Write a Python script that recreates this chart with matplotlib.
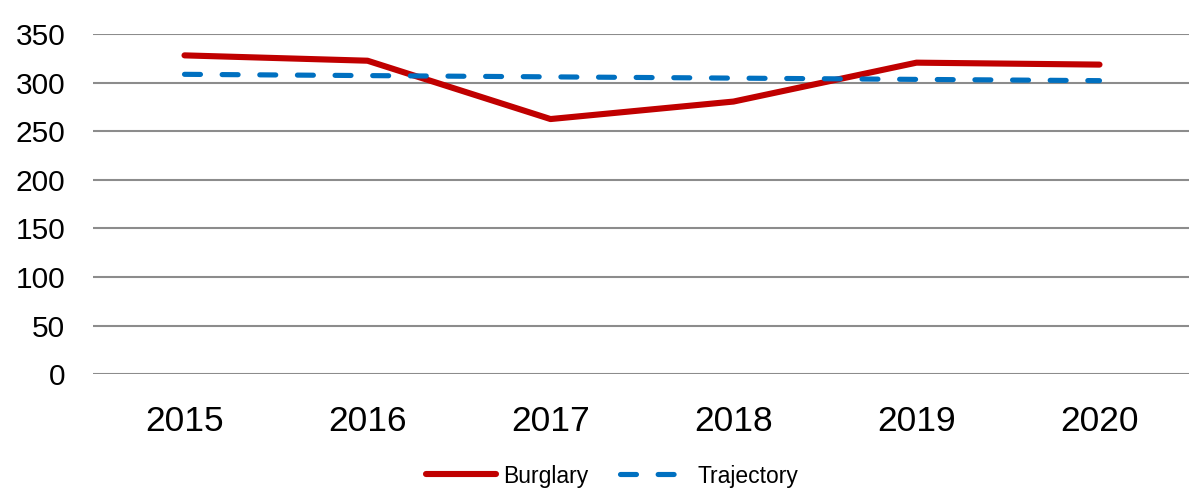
import matplotlib.pyplot as plt

plt.rcParams['font.family'] = ['Liberation Sans', 'DejaVu Sans']
plt.rcParams['lines.scale_dashes'] = False

# Chart data
years = ['2015', '2016', '2017', '2018', '2019', '2020']
burglary = [328, 322.5, 262.5, 280.5, 320.5, 318.5]
trajectory = [308.5, 307.2, 305.9, 304.6, 303.3, 302]
y_ticks = [0, 50, 100, 150, 200, 250, 300, 350]

fig = plt.figure(figsize=(11.89, 4.91), dpi=100)
ax = fig.add_axes([93 / 1189, 0.2377, 1098 / 1189, 0.6931])

x = range(len(years))
ax.plot(x, burglary, color='#C00000', lw=4.4, solid_capstyle='round',
        solid_joinstyle='round', label='Burglary', zorder=3)
ax.plot(x, trajectory, color='#0070C0', lw=3.7, dash_capstyle='round',
        linestyle=(0, (11.5, 15.6)), label='Trajectory', zorder=3)

ax.set_xlim(-0.5, len(years) - 0.5)
ax.set_ylim(0, 350)
ax.set_yticks(y_ticks)
ax.set_xticks(list(x))
ax.set_xticklabels(years)

ax.grid(axis='y', color='#8C8C8C', lw=1.5)
ax.set_axisbelow(True)
for s in ax.spines.values():
    s.set_visible(False)
ax.tick_params(axis='both', length=0)
ax.tick_params(axis='x', labelsize=25.5, pad=22)
ax.tick_params(axis='y', labelsize=21.5, pad=20)

# legend sits a little right of centre, like the original
fig.legend(loc='center', bbox_to_anchor=(612 / 1189, 1 - 476 / 491), ncol=2,
           frameon=False, fontsize=16.5, handlelength=3.05, columnspacing=1.4,
           handletextpad=0.3)

fig.savefig('out.png', dpi=100)
